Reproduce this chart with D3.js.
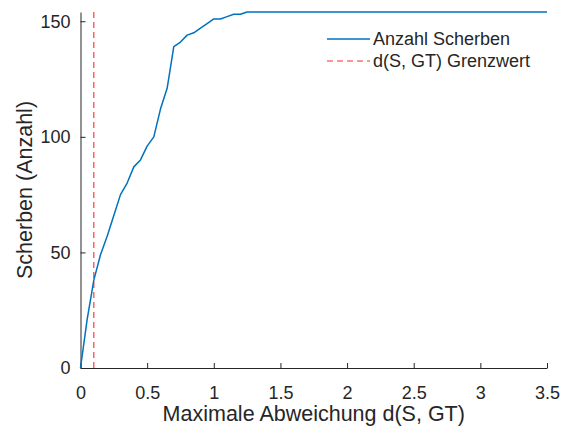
<!DOCTYPE html>
<html>
<head>
<meta charset="utf-8">
<script src="https://cdn.jsdelivr.net/npm/d3@7"></script>
<style>
  html, body { margin: 0; padding: 0; background: #fff; }
  svg { display: block; font-family: "Liberation Sans", Arial, sans-serif; }
</style>
</head>
<body>
<div id="chart"></div>
<script>
// Shard count as a function of the maximum deviation threshold d(S, GT)
const deviation = [0, 0.05, 0.1, 0.15, 0.2, 0.25, 0.3, 0.35, 0.4, 0.45, 0.5, 0.55, 0.6, 0.65, 0.7,
  0.75, 0.8, 0.85, 0.9, 0.95, 1.0, 1.05, 1.1, 1.15, 1.2, 1.25, 1.5, 2.0, 2.5, 3.0, 3.5];
const shardCount = [0, 21, 38, 49, 57, 66, 75, 80, 87, 90, 96, 100, 112, 121, 139,
  141, 144, 145, 147, 149, 151, 151, 152, 153, 153, 154, 154, 154, 154, 154, 154];
const threshold = [0.1];
const xTicks = [0, 0.5, 1, 1.5, 2, 2.5, 3, 3.5];
const yTicks = [0, 50, 100, 150];
const legendLabels = ["Anzahl Scherben", "d(S, GT) Grenzwert"];

const W = 562, H = 430;
const margin = { left: 80.5, right: 15, top: 12, bottom: 62 };
const ink = "#262626";
const blue = "#0072BD";
const red = "#ff2a2a";

const svg = d3.select("#chart").append("svg").attr("width", W).attr("height", H);

const x = d3.scaleLinear().domain([0, 3.5]).range([margin.left, W - margin.right]);
const y = d3.scaleLinear().domain([0, 154]).range([H - margin.bottom, margin.top]);

// axes with inward ticks
const xAxis = svg.append("g")
  .attr("transform", `translate(0,${y(0)})`)
  .call(d3.axisBottom(x).tickValues(xTicks).tickFormat(d3.format("")).tickSizeInner(-5).tickSizeOuter(0).tickPadding(18));
const yAxis = svg.append("g")
  .attr("transform", `translate(${x(0)},0)`)
  .call(d3.axisLeft(y).tickValues(yTicks).tickFormat(d3.format("d")).tickSizeInner(-5).tickSizeOuter(0).tickPadding(10));

[xAxis, yAxis].forEach(g => {
  g.select(".domain").attr("stroke", ink).attr("stroke-width", 1);
  g.selectAll(".tick line").attr("stroke", ink).attr("stroke-width", 1);
  g.selectAll(".tick text").attr("fill", ink).attr("font-size", 18)
    .attr("font-family", "'Liberation Sans', Arial, sans-serif");
});

// threshold line
svg.append("g").selectAll("line").data(threshold).join("line")
  .attr("x1", d => x(d)).attr("x2", d => x(d))
  .attr("y1", y(0)).attr("y2", y(154))
  .attr("stroke", red).attr("stroke-width", 1.1)
  .attr("stroke-dasharray", "6,4");

// shard count curve
const line = d3.line().x((d, i) => x(deviation[i])).y(d => y(d));
svg.append("path").datum(shardCount)
  .attr("d", line)
  .attr("fill", "none")
  .attr("stroke", blue)
  .attr("stroke-width", 1.5)
  .attr("stroke-linejoin", "round");

// axis labels
svg.append("text")
  .attr("x", (x(0) + x(3.5)) / 2).attr("y", 421)
  .attr("text-anchor", "middle").attr("fill", ink).attr("font-size", 21.5)
  .text("Maximale Abweichung d(S, GT)");
svg.append("text")
  .attr("transform", `translate(32,${(y(0) + y(154)) / 2}) rotate(-90)`)
  .attr("text-anchor", "middle").attr("fill", ink).attr("font-size", 21.5)
  .text("Scherben (Anzahl)");

// legend
const legend = svg.append("g").attr("transform", "translate(327,39)");
const rows = legend.selectAll("g").data(legendLabels).join("g")
  .attr("transform", (d, i) => `translate(0,${i * 22})`);
rows.append("line")
  .attr("x1", 0).attr("x2", 43).attr("y1", 0).attr("y2", 0)
  .attr("stroke", (d, i) => i === 0 ? blue : red)
  .attr("stroke-width", (d, i) => i === 0 ? 1.5 : 1.1)
  .attr("stroke-dasharray", (d, i) => i === 0 ? null : "6,4");
rows.append("text")
  .attr("x", 46).attr("y", 0).attr("dy", "0.35em")
  .attr("fill", ink).attr("font-size", 18)
  .text(d => d);
</script>
</body>
</html>
